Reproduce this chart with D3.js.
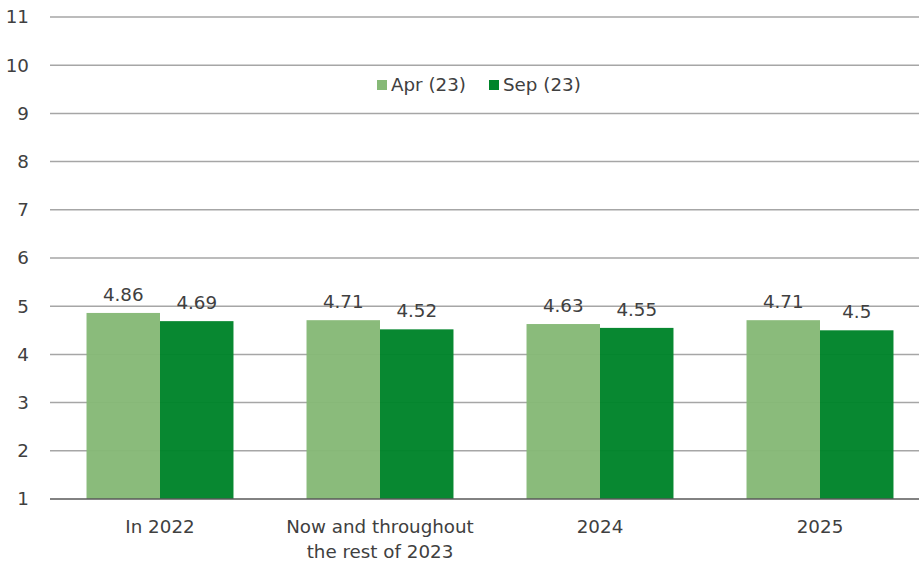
<!DOCTYPE html>
<html>
<head>
<meta charset="utf-8">
<script src="https://cdn.jsdelivr.net/npm/d3@7"></script>
<style>
  body { margin: 0; background: #fff; }
  svg { display: block; font-family: "DejaVu Sans", Verdana, sans-serif; }
</style>
</head>
<body>
<div id="container"></div>
<script>
const categories = ["In 2022", "Now and throughout the rest of 2023", "2024", "2025"];
const categoryLines = [["In 2022"], ["Now and throughout", "the rest of 2023"], ["2024"], ["2025"]];
const seriesNames = ["Apr (23)", "Sep (23)"];
const aprValues = [4.86, 4.71, 4.63, 4.71];
const sepValues = [4.69, 4.52, 4.55, 4.5];
const yTicks = [1, 2, 3, 4, 5, 6, 7, 8, 9, 10, 11];
const colors = ["#86B977", "#00842A"];

const width = 919;
const height = 561;
const margin = { top: 17, right: -11, bottom: 62, left: 50 };
const fontSize = 18.3;

const svg = d3.select("#container").append("svg")
    .attr("width", width)
    .attr("height", height);

const y = d3.scaleLinear()
    .domain([1, 11])
    .range([height - margin.bottom, margin.top]);

const x = d3.scaleBand()
    .domain(categories)
    .range([margin.left, width - margin.right])
    .paddingInner(0.332)
    .paddingOuter(0.166);

const xs = d3.scaleBand()
    .domain(seriesNames)
    .range([0, x.bandwidth()]);

// gridlines
svg.append("g")
    .selectAll("line")
    .data(yTicks.filter(d => d > 1))
    .join("line")
    .attr("x1", margin.left)
    .attr("x2", width - margin.right)
    .attr("y1", d => y(d))
    .attr("y2", d => y(d))
    .attr("stroke", "#A6A6A6")
    .attr("stroke-width", 1.5);

// y tick labels
svg.append("g")
    .selectAll("text")
    .data(yTicks)
    .join("text")
    .attr("x", 29)
    .attr("y", d => y(d))
    .attr("dy", "0.35em")
    .attr("text-anchor", "end")
    .attr("fill", "#404040")
    .attr("font-size", fontSize)
    .text(d => d);

const rows = categories.map((c, i) => ({ cat: c, values: [aprValues[i], sepValues[i]] }));

const groups = svg.append("g")
    .selectAll("g")
    .data(rows)
    .join("g")
    .attr("transform", d => `translate(${x(d.cat)},0)`);

groups.selectAll("rect")
    .data(d => d.values.map((v, j) => ({ name: seriesNames[j], value: v, j })))
    .join("rect")
    .attr("x", d => xs(d.name))
    .attr("width", xs.bandwidth())
    .attr("y", d => y(d.value))
    .attr("height", d => y(1) - y(d.value))
    .attr("fill", d => colors[d.j])
    .attr("fill-opacity", 0.97);

groups.selectAll("text")
    .data(d => d.values.map((v, j) => ({ name: seriesNames[j], value: v })))
    .join("text")
    .attr("x", d => xs(d.name) + xs.bandwidth() / 2)
    .attr("y", d => y(d.value) - 12)
    .attr("text-anchor", "middle")
    .attr("fill", "#404040")
    .attr("font-size", fontSize)
    .text(d => d.value);

// baseline
svg.append("line")
    .attr("x1", margin.left)
    .attr("x2", width - margin.right)
    .attr("y1", y(1))
    .attr("y2", y(1))
    .attr("stroke", "#595959")
    .attr("stroke-width", 1.5);

// category labels
const catLabels = svg.append("g")
    .selectAll("text")
    .data(categories)
    .join("text")
    .attr("x", d => x(d) + x.bandwidth() / 2)
    .attr("y", y(1) + 34)
    .attr("text-anchor", "middle")
    .attr("fill", "#404040")
    .attr("font-size", fontSize);

catLabels.selectAll("tspan")
    .data((d, i) => categoryLines[i])
    .join("tspan")
    .attr("x", function () { return d3.select(this.parentNode).attr("x"); })
    .attr("dy", (d, i) => i === 0 ? 0 : 25)
    .text(d => d);

// legend
const legend = svg.append("g").attr("transform", "translate(377,85)");
const legendX = [0, 112];
seriesNames.forEach((name, i) => {
    const g = legend.append("g").attr("transform", `translate(${legendX[i]},0)`);
    g.append("rect")
        .attr("x", 0)
        .attr("y", -5)
        .attr("width", 10)
        .attr("height", 10)
        .attr("fill", colors[i]);
    g.append("text")
        .attr("x", 14)
        .attr("y", 0)
        .attr("dy", "0.35em")
        .attr("fill", "#404040")
        .attr("font-size", fontSize)
        .text(name);
});
</script>
</body>
</html>
